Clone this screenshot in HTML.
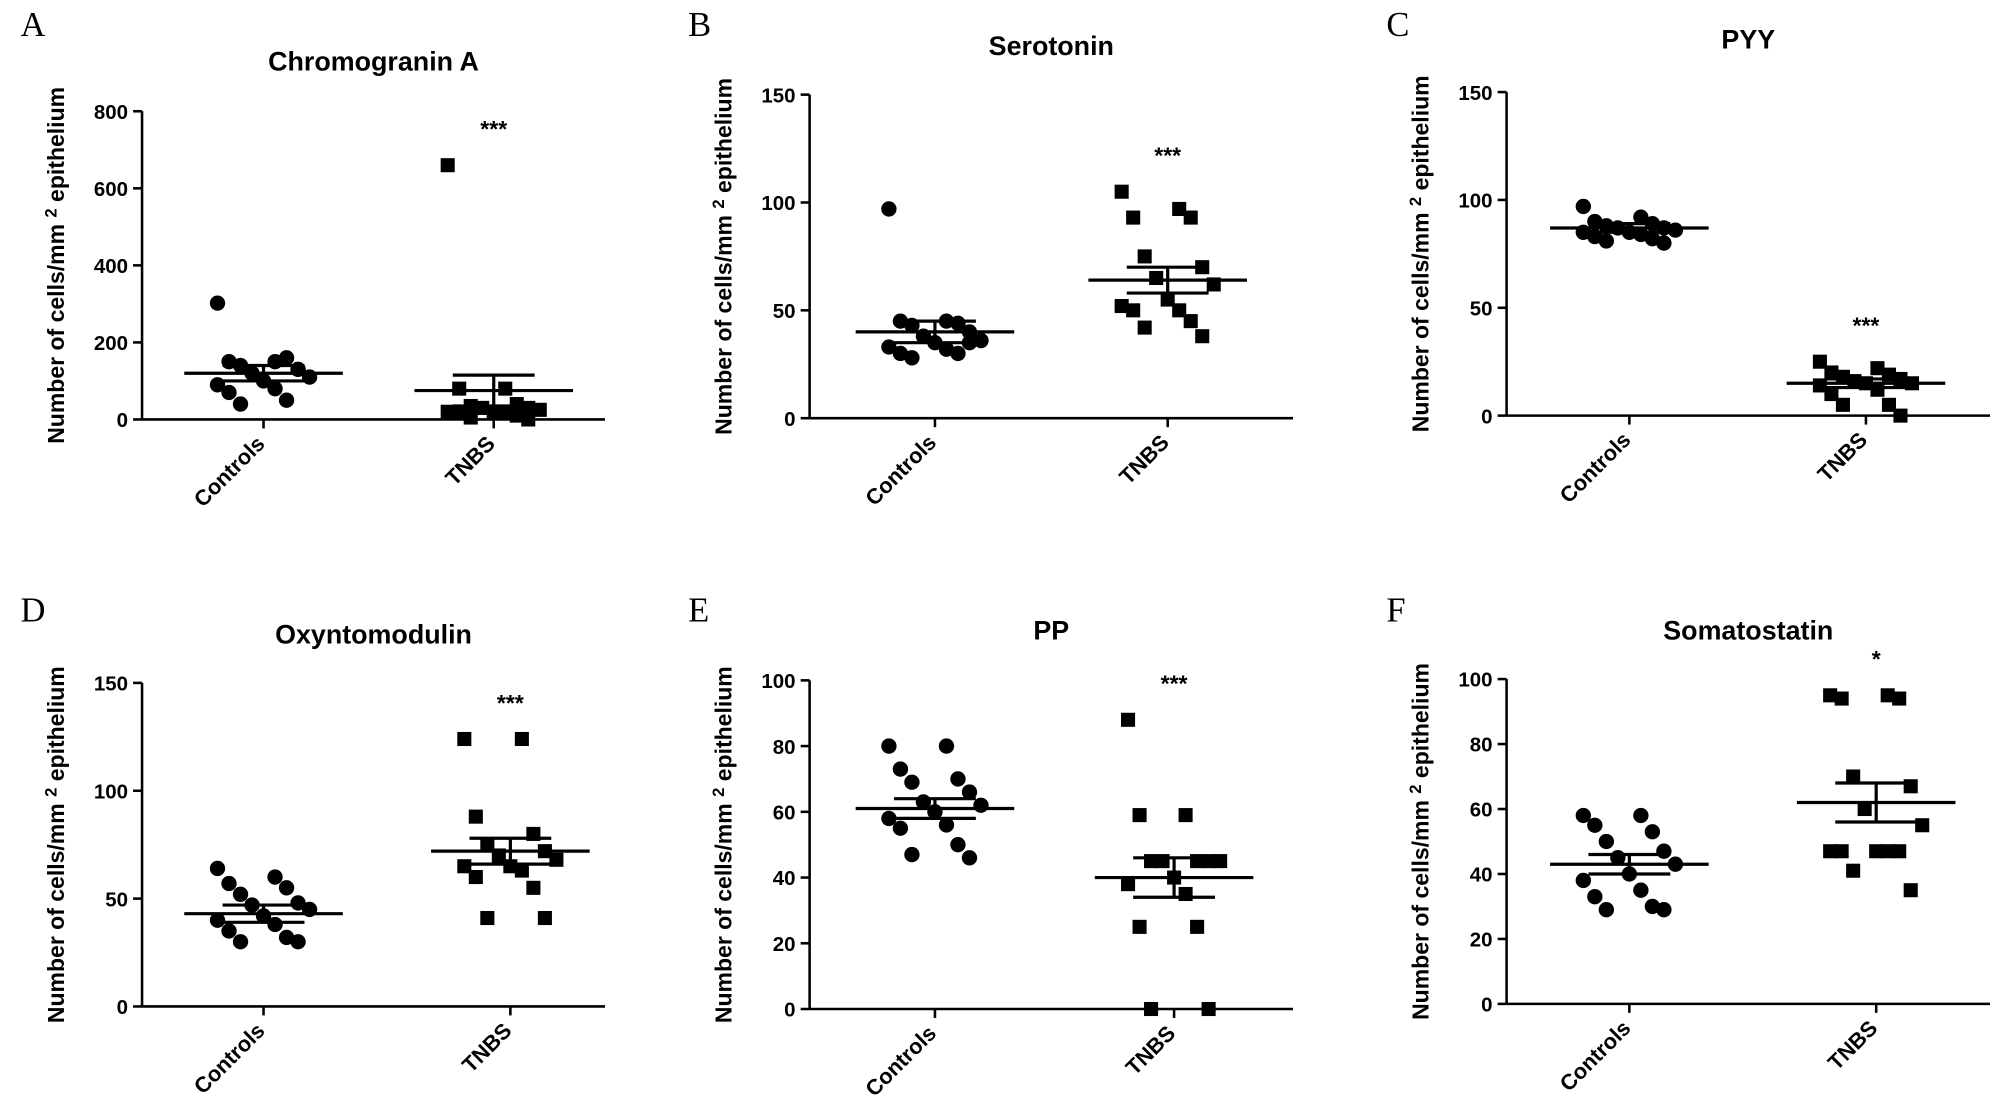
<!DOCTYPE html>
<html><head><meta charset="utf-8"><style>
html,body{margin:0;padding:0;background:#fff;}
svg{display:block;}
text{font-family:"Liberation Sans",Arial,sans-serif;font-weight:bold;fill:#000;}
.letter{font-family:"Liberation Serif",serif;font-weight:normal;font-size:27px;}
</style></head><body>
<svg id="fig" width="2008" height="1119" viewBox="0 0 1568 875" xmlns="http://www.w3.org/2000/svg"></svg>
<script>
const titles = ["Chromogranin A","Serotonin","PYY","Oxyntomodulin","PP","Somatostatin"];
const letters = ["A","B","C","D","E","F"];
const categories = ["Controls","TNBS"];
const yMax = [800,150,150,150,100,100];
const yTicks = [[0,200,400,600,800],[0,50,100,150],[0,50,100,150],[0,50,100,150],[0,20,40,60,80,100],[0,20,40,60,80,100]];
const controls = [
 [302,150,150,160,140,130,120,110,100,90,80,70,50,40,130],
 [97,45,45,44,43,40,38,36,35,33,32,30,30,28,35],
 [97,92,90,89,88,87,87,86,85,85,84,83,82,81,80],
 [64,60,57,55,52,48,47,45,42,40,38,35,32,30,30],
 [80,80,73,70,69,66,63,62,60,58,56,55,50,47,46],
 [58,58,55,53,50,47,45,43,40,38,35,33,30,29,29]];
const tnbs = [
 [660,80,80,40,35,30,30,25,20,20,20,20,10,5,0],
 [105,97,93,93,75,70,65,62,55,52,50,50,45,42,38],
 [25,22,20,19,18,17,16,15,15,14,12,10,5,5,0],
 [124,124,88,80,75,72,70,68,65,65,63,60,55,41,41],
 [88,59,59,45,45,45,45,45,40,38,35,25,25,0,0],
 [95,95,94,94,70,67,60,55,47,47,47,47,47,41,35]];
const ctrlMean = [120,40,87,43,61,43], ctrlSem = [20,5,2,4,3,3];
const tnbsMean = [75,64,15,72,40,62], tnbsSem = [40,6,2,6,6,6];
const stars = ["***","***","***","***","***","*"];

const L = [
 {ax:110,top:87,bot:328,xe:472,c:205,t:385,ty:55,lx:15,ly:28},
 {ax:632,top:74,bot:327,xe:1010,c:730,t:912,ty:43,lx:537,ly:28},
 {ax:1177,top:72,bot:325,xe:1555,c:1273,t:1458,ty:38,lx:1083,ly:28},
 {ax:110,top:534,bot:787,xe:472,c:205,t:398,ty:503,lx:15,ly:486},
 {ax:632,top:532,bot:789,xe:1010,c:730,t:917,ty:500,lx:537,ly:486},
 {ax:1177,top:531,bot:785,xe:1555,c:1273,t:1466,ty:500,lx:1083,ly:486}];
const svg = document.getElementById('fig');
const NS = "http://www.w3.org/2000/svg";
function mk(tag, attrs, parent){const e=document.createElementNS(NS,tag);for(const k in attrs)e.setAttribute(k,attrs[k]);(parent||svg).appendChild(e);return e;}
function jitter(i){return ((i*5)%9-4)*9;}
for(let p=0;p<6;p++){
 const l=L[p];
 const g=mk('g',{});
 
 
 const y=v=>l.bot-(v/yMax[p])*(l.bot-l.top);
 let t=mk('text',{x:l.lx,y:l.ly,class:'letter'},g);t.textContent=letters[p];
 
 t=mk('text',{x:(l.ax+l.xe)/2,y:l.ty,'font-size':21,'text-anchor':'middle'},g);t.textContent=titles[p];
 
 const cy=(l.top+l.bot)/2;
 t=mk('text',{x:0,y:0,'font-size':18,'text-anchor':'middle',transform:`translate(${l.ax-61},${cy}) rotate(-90)`},g);
 t.innerHTML='Number of cells/mm <tspan dy="-6" font-size="13">2</tspan><tspan dy="6"> epithelium</tspan>';
 
 let a=mk('line',{x1:l.ax,y1:l.top,x2:l.ax,y2:l.bot,stroke:'#000','stroke-width':2},g);
 
 a=mk('line',{x1:l.ax,y1:l.bot,x2:l.xe,y2:l.bot,stroke:'#000','stroke-width':2},g);
 
 yTicks[p].forEach(v=>{
  mk('line',{x1:l.ax-7,y1:y(v),x2:l.ax,y2:y(v),stroke:'#000','stroke-width':2},g);
  const tt=mk('text',{x:l.ax-11,y:y(v)+6,'font-size':16,'text-anchor':'end'},g);tt.textContent=v;
  
 });
 [l.c,l.t].forEach((xc,ci)=>{
  mk('line',{x1:xc,y1:l.bot,x2:xc,y2:l.bot+7,stroke:'#000','stroke-width':2},g);
  const tt=mk('text',{x:0,y:0,'font-size':17,'text-anchor':'end',transform:`translate(${xc+2},${l.bot+20}) rotate(-45)`},g);
  tt.textContent=categories[ci];
  
 });
 controls[p].forEach((v,i)=>{
  const c=mk('circle',{cx:l.c+jitter(i),cy:y(v),r:6,fill:'#000'},g);
  
 });
 tnbs[p].forEach((v,i)=>{
  const r=mk('rect',{x:l.t+jitter(i)-5.5,y:y(v)-5.5,width:11,height:11,fill:'#000'},g);
  
 });
 [[l.c,ctrlMean[p],ctrlSem[p]],[l.t,tnbsMean[p],tnbsSem[p]]].forEach(([xc,m,s])=>{
  const e=mk('g',{stroke:'#000','stroke-width':2.5},g);
  
  mk('line',{x1:xc-62,y1:y(m),x2:xc+62,y2:y(m)},e);
  mk('line',{x1:xc,y1:y(m-s),x2:xc,y2:y(m+s)},e);
  mk('line',{x1:xc-32,y1:y(m+s),x2:xc+32,y2:y(m+s)},e);
  mk('line',{x1:xc-32,y1:y(m-s),x2:xc+32,y2:y(m-s)},e);
 });
 const top=Math.max(...tnbs[p], tnbsMean[p]+tnbsSem[p]);
 t=mk('text',{x:l.t,y:y(top)-22,'font-size':18,'text-anchor':'middle'},g);t.textContent=stars[p];
 
}
</script>
</body></html>
